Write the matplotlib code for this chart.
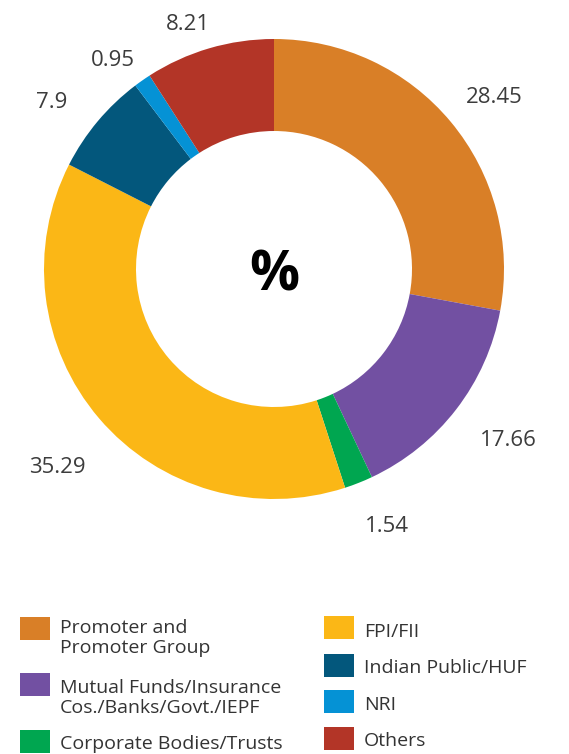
import numpy as np
import matplotlib
matplotlib.use('Agg')
import matplotlib.pyplot as plt
from matplotlib.patches import Rectangle

plt.rcParams['font.family'] = ['Open Sans', 'DejaVu Sans']

# data
categories = ['Promoter and\nPromoter Group', 'Mutual Funds/Insurance\nCos./Banks/Govt./IEPF',
              'Corporate Bodies/Trusts', 'FPI/FII', 'Indian Public/HUF', 'NRI', 'Others']
value_labels = ['28.45', '17.66', '1.54', '35.29', '7.9', '0.95', '8.21']
# ring share as actually drawn in the original graphic (%)
drawn_share = [27.9, 15.1, 2.0, 37.5, 7.2, 1.2, 9.1]
colors = ['#D97F27', '#7250A2', '#00A650', '#FBB716', '#03577C', '#0592D5', '#B33527']

W, H = 569, 754
fig = plt.figure(figsize=(W / 100, H / 100), dpi=100)

# donut axes: radius 1 -> 230 px, centre at (274, 269) from top
R = 230
cx, cy = 274, H - 269
half = 1.3
ax = fig.add_axes([(cx - half * R) / W, (cy - half * R) / H, 2 * half * R / W, 2 * half * R / H])
wedges, _ = ax.pie(drawn_share, colors=colors, startangle=90, counterclock=False,
                   wedgeprops=dict(width=0.40, linewidth=0))
ax.set_xlim(-half, half)
ax.set_ylim(-half, half)
ax.set_aspect('equal')
ax.axis('off')

# value labels around the ring
ang_shift = [-1.5, 1.8, 2.3, 1.6, 2.7, 2.4, 2.8]
dist = [1.22, 1.255, 1.213, 1.271, 1.213, 1.154, 1.137]
for w, lab, da, d in zip(wedges, value_labels, ang_shift, dist):
    a = np.deg2rad((w.theta1 + w.theta2) / 2 + da)
    ax.text(d * np.cos(a), d * np.sin(a) - 0.012, lab, ha='center', va='center',
            fontsize=16, color='#3c3c3c', clip_on=False)

ax.text(0, -0.03, '%', ha='center', va='center', fontsize=40, fontweight='bold', color='black')

# legend drawn by hand in pixel space
lg = fig.add_axes([0, 0, 1, 1])
lg.set_xlim(0, W)
lg.set_ylim(H, 0)
lg.axis('off')
box_x = [20, 20, 20, 324, 324, 324, 324]
box_y = [617, 673, 730, 616, 654, 690, 727]
text_y = [619, 679, 735, 623, 659, 696, 732]
for i in range(len(categories)):
    lg.add_patch(Rectangle((box_x[i], box_y[i]), 30, 23, color=colors[i], linewidth=0))
    lg.text(box_x[i] + 40, text_y[i], categories[i], ha='left', va='top', fontsize=14,
            color='#333333', linespacing=1.15)

fig.savefig('out.png', dpi=100)
